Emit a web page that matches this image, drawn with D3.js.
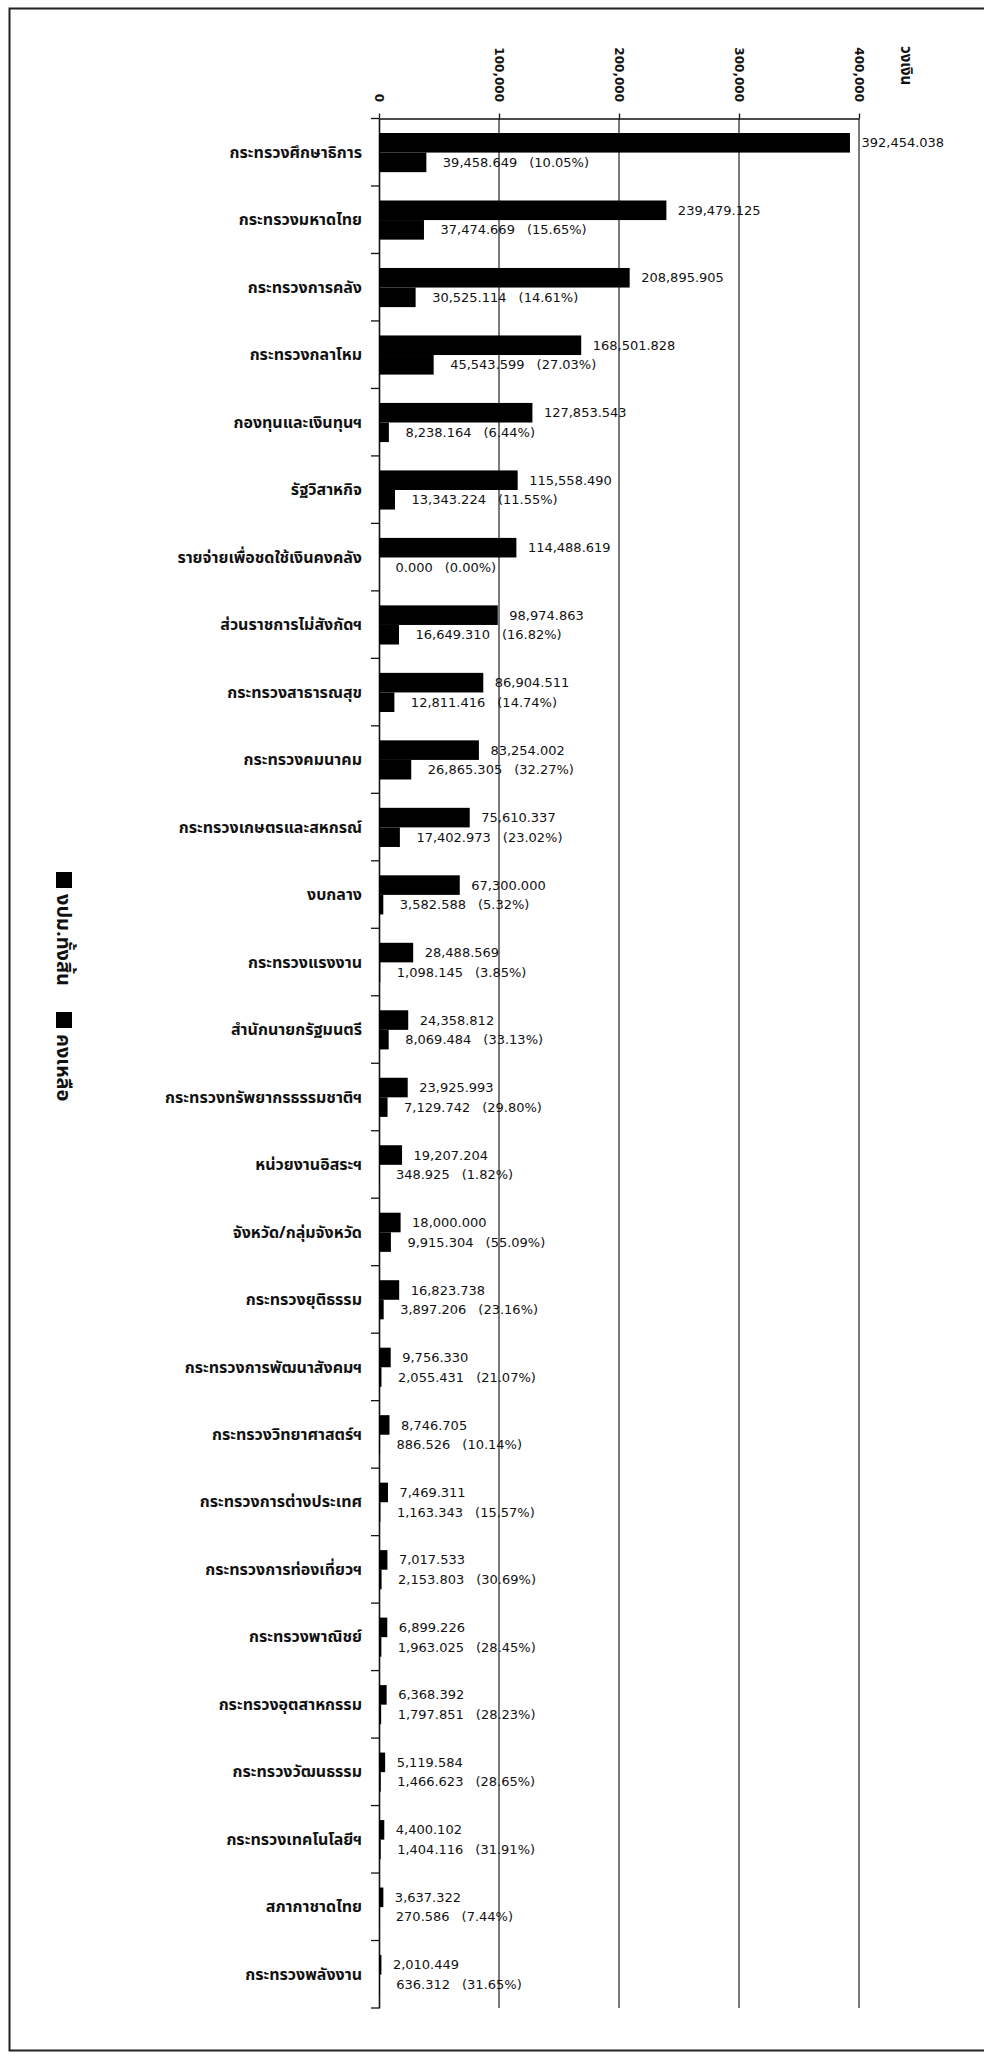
<!DOCTYPE html>
<meta charset="utf-8">

<head>
	<title>งบประมาณทั้งสิ้นและคงเหลือ</title>
	<script src="https://d3js.org/d3.v7.min.js" charset="utf-8"></script>
</head>

<style type="text/css">

	body {
		margin: 0;
		background: #fff;
	}

	svg {
		display: block;
	}

	.cat, .legend text, .unit {
		font-family: "Noto Sans Thai", "Loma", "Garuda", "Tahoma", sans-serif;
		font-weight: bold;
		fill: #111;
	}

	.val {
		font-family: "DejaVu Sans", sans-serif;
		font-size: 13px;
		fill: #111;
	}

	.tickLabel {
		font-family: "DejaVu Sans", sans-serif;
		font-weight: bold;
		font-size: 12px;
		fill: #111;
	}

	.grid line {
		stroke: #222;
		stroke-width: 1.2px;
	}

</style>

<body>

	<script>

		// หน่วย: ล้านบาท
		var categories = [
			"กระทรวงศึกษาธิการ", "กระทรวงมหาดไทย", "กระทรวงการคลัง", "กระทรวงกลาโหม",
			"กองทุนและเงินทุนฯ", "รัฐวิสาหกิจ", "รายจ่ายเพื่อชดใช้เงินคงคลัง", "ส่วนราชการไม่สังกัดฯ",
			"กระทรวงสาธารณสุข", "กระทรวงคมนาคม", "กระทรวงเกษตรและสหกรณ์", "งบกลาง",
			"กระทรวงแรงงาน", "สำนักนายกรัฐมนตรี", "กระทรวงทรัพยากรธรรมชาติฯ", "หน่วยงานอิสระฯ",
			"จังหวัด/กลุ่มจังหวัด", "กระทรวงยุติธรรม", "กระทรวงการพัฒนาสังคมฯ", "กระทรวงวิทยาศาสตร์ฯ",
			"กระทรวงการต่างประเทศ", "กระทรวงการท่องเที่ยวฯ", "กระทรวงพาณิชย์", "กระทรวงอุตสาหกรรม",
			"กระทรวงวัฒนธรรม", "กระทรวงเทคโนโลยีฯ", "สภากาชาดไทย", "กระทรวงพลังงาน"
		];

		var totals = [
			392454.038, 239479.125, 208895.905, 168501.828,
			127853.543, 115558.490, 114488.619, 98974.863,
			86904.511, 83254.002, 75610.337, 67300.000,
			28488.569, 24358.812, 23925.993, 19207.204,
			18000.000, 16823.738, 9756.330, 8746.705,
			7469.311, 7017.533, 6899.226, 6368.392,
			5119.584, 4400.102, 3637.322, 2010.449
		];

		var remaining = [
			39458.649, 37474.669, 30525.114, 45543.599,
			8238.164, 13343.224, 0.000, 16649.310,
			12811.416, 26865.305, 17402.973, 3582.588,
			1098.145, 8069.484, 7129.742, 348.925,
			9915.304, 3897.206, 2055.431, 886.526,
			1163.343, 2153.803, 1963.025, 1797.851,
			1466.623, 1404.116, 270.586, 636.312
		];

		var pctLabels = [
			"(10.05%)", "(15.65%)", "(14.61%)", "(27.03%)",
			"(6.44%)", "(11.55%)", "(0.00%)", "(16.82%)",
			"(14.74%)", "(32.27%)", "(23.02%)", "(5.32%)",
			"(3.85%)", "(33.13%)", "(29.80%)", "(1.82%)",
			"(55.09%)", "(23.16%)", "(21.07%)", "(10.14%)",
			"(15.57%)", "(30.69%)", "(28.45%)", "(28.23%)",
			"(28.65%)", "(31.91%)", "(7.44%)", "(31.65%)"
		];

		var xTicks = [0, 100000, 200000, 300000, 400000];
		var legendLabels = ["งปม.ทั้งสิ้น", "คงเหลือ"];
		var unitLabel = "วงเงิน";

		var width = 984,
			height = 2057;

		var svg = d3.select("body").append("svg")
			.attr("width", width)
			.attr("height", height);

		// page frame (scanned sheet border)
		svg.append("rect")
			.attr("x", 9.5)
			.attr("y", 8.5)
			.attr("width", 990)
			.attr("height", 2042)
			.style("fill", "none")
			.style("stroke", "#222")
			.style("stroke-width", 2);

		var x = d3.scaleLinear()
			.domain([0, 400000])
			.range([379, 859]);

		var y = d3.scaleBand()
			.domain(categories)
			.range([118.5, 2008]);

		var step = y.step(),
			barTop = step * 0.215,
			barH = step * 0.29;

		var fmt = d3.format(",.3f");

		var rows = categories.map(function(c, i) {
			return { cat: c, total: totals[i], rem: remaining[i], pct: pctLabels[i] };
		});

		// gridlines
		svg.append("g")
			.attr("class", "grid")
			.selectAll("line")
			.data(xTicks.slice(1))
		 .enter().append("line")
			.attr("x1", function(d) { return x(d); })
			.attr("x2", function(d) { return x(d); })
			.attr("y1", y.range()[0])
			.attr("y2", y.range()[1]);

		// top value axis
		var xAxis = svg.append("g")
			.attr("transform", "translate(0," + y.range()[0] + ")")
			.call(d3.axisTop(x).tickValues(xTicks).tickSize(5).tickSizeOuter(0).tickFormat(""));
		xAxis.select(".domain").style("stroke", "#111").style("stroke-width", 1.5);
		xAxis.selectAll(".tick line").style("stroke", "#111").style("stroke-width", 1.3);

		svg.selectAll(".tickLabel")
			.data(xTicks)
		 .enter().append("text")
			.attr("class", "tickLabel")
			.attr("transform", function(d) { return "translate(" + x(d) + ",102) rotate(90)"; })
			.attr("dy", "0.35em")
			.attr("text-anchor", "end")
			.text(function(d) { return d3.format(",")(d); });

		svg.append("text")
			.attr("class", "unit")
			.attr("transform", "translate(906,46) rotate(90)")
			.attr("dy", "0.35em")
			.style("font-size", "15px")
			.text(unitLabel);

		// category axis
		var yAxis = svg.append("g")
			.attr("transform", "translate(" + x(0) + ",0)")
			.call(d3.axisLeft(y).tickSize(0).tickFormat(""));
		yAxis.select(".domain").style("stroke", "#111").style("stroke-width", 1.6);

		svg.append("g")
			.selectAll("line")
			.data(categories.concat([null]))
		 .enter().append("line")
			.attr("x1", x(0) - 8)
			.attr("x2", x(0))
			.attr("y1", function(d, i) { return y.range()[0] + i * step; })
			.attr("y2", function(d, i) { return y.range()[0] + i * step; })
			.style("stroke", "#111")
			.style("stroke-width", 1.3);

		svg.selectAll(".cat")
			.data(rows)
		 .enter().append("text")
			.attr("class", "cat")
			.attr("x", 362)
			.attr("y", function(d) { return y(d.cat) + step / 2; })
			.attr("dy", "0.35em")
			.attr("text-anchor", "end")
			.style("font-size", "16px")
			.text(function(d) { return d.cat; });

		// bars: total on top, remaining below
		svg.selectAll(".barTotal")
			.data(rows)
		 .enter().append("rect")
			.attr("class", "barTotal")
			.attr("x", x(0))
			.attr("y", function(d) { return y(d.cat) + barTop; })
			.attr("width", function(d) { return x(d.total) - x(0); })
			.attr("height", barH)
			.style("fill", "#000");

		svg.selectAll(".barRem")
			.data(rows)
		 .enter().append("rect")
			.attr("class", "barRem")
			.attr("x", x(0))
			.attr("y", function(d) { return y(d.cat) + barTop + barH; })
			.attr("width", function(d) { return x(d.rem) - x(0); })
			.attr("height", barH)
			.style("fill", "#000");

		svg.selectAll(".valTotal")
			.data(rows)
		 .enter().append("text")
			.attr("class", "val valTotal")
			.attr("x", function(d) { return x(d.total) + 11.5; })
			.attr("y", function(d) { return y(d.cat) + barTop + barH / 2; })
			.attr("dy", "0.35em")
			.text(function(d) { return fmt(d.total); });

		var remLabel = svg.selectAll(".valRem")
			.data(rows)
		 .enter().append("text")
			.attr("class", "val valRem")
			.attr("x", function(d) { return x(d.rem) + 16.5; })
			.attr("y", function(d) { return y(d.cat) + barTop + barH * 1.5; })
			.attr("dy", "0.35em");
		remLabel.append("tspan")
			.text(function(d) { return fmt(d.rem); });
		remLabel.append("tspan")
			.attr("dx", 12)
			.text(function(d) { return d.pct; });

		// legend, turned on its side like the rest of the sheet
		var legend = svg.append("g")
			.attr("class", "legend")
			.attr("transform", "translate(64,872) rotate(90)");

		var pos = 0;
		legendLabels.forEach(function(lab) {
			legend.append("rect")
				.attr("x", pos)
				.attr("y", -8)
				.attr("width", 16)
				.attr("height", 16)
				.style("fill", "#000");
			var t = legend.append("text")
				.attr("x", pos + 22)
				.attr("y", 0)
				.attr("dy", "0.35em")
				.style("font-size", "20px")
				.text(lab);
			pos += 22 + t.node().getComputedTextLength() + 26;
		});

	</script>

</body>
